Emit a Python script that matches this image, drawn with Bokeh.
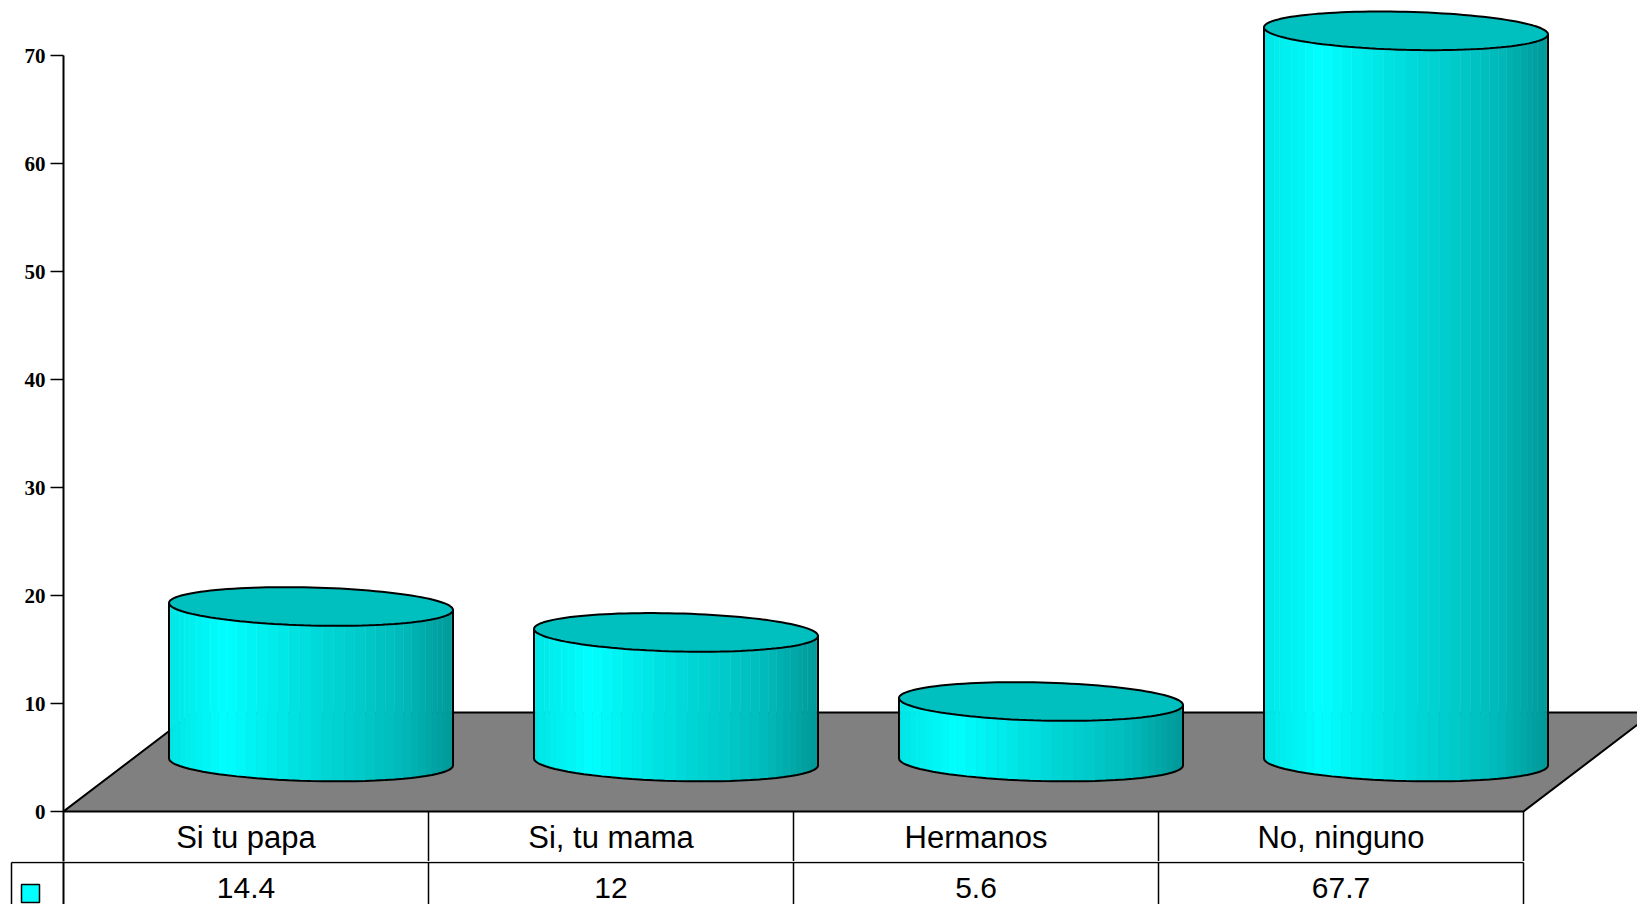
import numpy as np
from bokeh.plotting import figure
from bokeh.layouts import column
from bokeh.models import Range1d, FixedTicker
from bokeh.core.properties import value
from bokeh.embed import file_html
from bokeh.resources import INLINE

# ---------------- data ----------------
categories = ["Si tu papa", "Si, tu mama", "Hermanos", "No, ninguno"]
values = [14.4, 12, 5.6, 67.7]
value_labels = ["14.4", "12", "5.6", "67.7"]
y_ticks = [0, 10, 20, 30, 40, 50, 60, 70]

# ---------------- layout (pixels) ----------------
W = 1637
H1, H2 = 861, 43      # chart part / value row of the data table
LEFT = 63             # left border (axis panel)
COL_PX = 365.0        # width of one category column
PX_PER_UNIT = 10.8    # pixels per value unit
ZERO_PX = 811         # distance from top to value 0

def v_at(px):
    """value coordinate of a pixel row"""
    return (ZERO_PX - px) / PX_PER_UNIT

x_end = (W - LEFT) / COL_PX
DX = 130 / COL_PX            # floor depth, horizontal
DY = 99 / PX_PER_UNIT        # floor depth, vertical
RX = 142 / COL_PX            # cylinder radius (x)
RY = 19 / PX_PER_UNIT        # ellipse half height
SHEAR = 3.5 / PX_PER_UNIT    # slight tilt of the ellipses
BASE = DY / 2
ROW1 = v_at(862)             # header row bottom
n = len(categories)
xc = [i + 0.5 for i in range(n)]

def styled(fig):
    fig.xgrid.visible = False
    fig.ygrid.visible = False
    fig.background_fill_color = "white"
    fig.border_fill_color = "white"
    try:
        fig.frame_align = False
    except Exception:
        pass
    return fig

# ================= main chart =================
p = figure(width=W, height=H1, x_range=Range1d(0, x_end), y_range=Range1d(v_at(H1), v_at(0)),
           x_axis_location=None, y_axis_location="left", toolbar_location=None,
           output_backend="svg", min_border_left=LEFT, min_border_right=0,
           min_border_top=0, min_border_bottom=0, outline_line_color=None)
styled(p)

ax = p.yaxis[0]
ax.ticker = FixedTicker(ticks=y_ticks)
ax.bounds = (v_at(H1 + 2), 70)
ax.minor_tick_line_color = None
ax.major_tick_out = 13
ax.major_tick_in = 0
ax.major_tick_line_width = 1.5
ax.axis_line_width = 2
ax.major_label_standoff = 5
ax.major_label_text_font = "Liberation Serif"
ax.major_label_text_font_style = "bold"
ax.major_label_text_font_size = "21px"
ax.major_label_text_color = "black"

# floor
p.patch([0, n, n + DX, DX], [0, 0, DY, DY], fill_color="#808080",
        line_color="black", line_width=2)

# header row of the data table
p.segment(x0=list(range(1, n + 1)), y0=[0] * n, x1=list(range(1, n + 1)),
          y1=[v_at(H1 + 10)] * n, line_color="black", line_width=1.5)
p.text(x=xc, y=[ROW1 / 2] * n, text=categories, text_font=value("Liberation Sans"),
       text_font_size="31px", text_align="center", text_baseline="middle", text_color="black")

# cylinders
NS = 40
th = np.linspace(np.pi, 2 * np.pi, NS + 1)
knots_t = [0.0, 0.2, 0.5, 0.8, 1.0]
knots_i = [0.90, 1.0, 0.86, 0.74, 0.60]

def ell_y(c, t):
    return c + RY * np.sin(t) - SHEAR * np.cos(t)

for i, v in enumerate(values):
    cx = i + 0.5 + DX / 2
    top = BASE + v
    xs_edge = cx + RX * np.cos(th)
    yb = ell_y(BASE, th)
    yt = ell_y(top, th)
    sx, sy, cols = [], [], []
    for k in range(NS):
        sx.append([xs_edge[k], xs_edge[k + 1], xs_edge[k + 1], xs_edge[k]])
        sy.append([yb[k], yb[k + 1], yt[k + 1], yt[k]])
        tm = ((np.cos(th[k]) + np.cos(th[k + 1])) / 2 + 1) / 2
        g = int(round(255 * np.interp(tm, knots_t, knots_i)))
        cols.append("#00%02x%02x" % (g, g))
    p.patches(sx, sy, fill_color=cols, line_color=cols, line_width=0.5)
    ox = np.concatenate([[cx - RX], xs_edge, [cx + RX]])
    oy = np.concatenate([[ell_y(top, np.pi)], yb, [ell_y(top, 2 * np.pi)]])
    p.line(ox, oy, line_color="black", line_width=2)
    ta = np.linspace(0, 2 * np.pi, 121)
    p.patch(cx + RX * np.cos(ta), ell_y(top, ta), fill_color="#00BFBF",
            line_color="black", line_width=2)

# ================= value row of the data table =================
q = figure(width=W, height=H2, x_range=Range1d(-LEFT / COL_PX, x_end),
           y_range=Range1d(v_at(H1 + H2), v_at(H1)),
           x_axis_location=None, y_axis_location=None, toolbar_location=None,
           output_backend="svg", min_border_left=0, min_border_right=0,
           min_border_top=0, min_border_bottom=0, outline_line_color=None)
styled(q)

q.segment(x0=[-52 / COL_PX], y0=[ROW1], x1=[n], y1=[ROW1], line_color="black", line_width=1.5)
q.segment(x0=list(range(1, n + 1)) + [-52 / COL_PX], y0=[ROW1] * (n + 1),
          x1=list(range(1, n + 1)) + [-52 / COL_PX], y1=[v_at(H1 + H2 + 10)] * (n + 1),
          line_color="black", line_width=1.5)
q.segment(x0=[0], y0=[v_at(H1 - 5)], x1=[0], y1=[v_at(H1 + H2 + 10)],
          line_color="black", line_width=2)
# legend key of the series
q.quad(left=[-42 / COL_PX], right=[-24 / COL_PX], top=[v_at(884)], bottom=[v_at(902)],
       fill_color="#00FFFF", line_color="black", line_width=1.5)
q.text(x=xc, y=[v_at(887.5)] * n, text=value_labels,
       text_font=value("Liberation Sans"), text_font_size="30px", text_align="center",
       text_baseline="middle", text_color="black")

layout = column(p, q, spacing=0)
open("out.html", "w").write(file_html(layout, INLINE))
